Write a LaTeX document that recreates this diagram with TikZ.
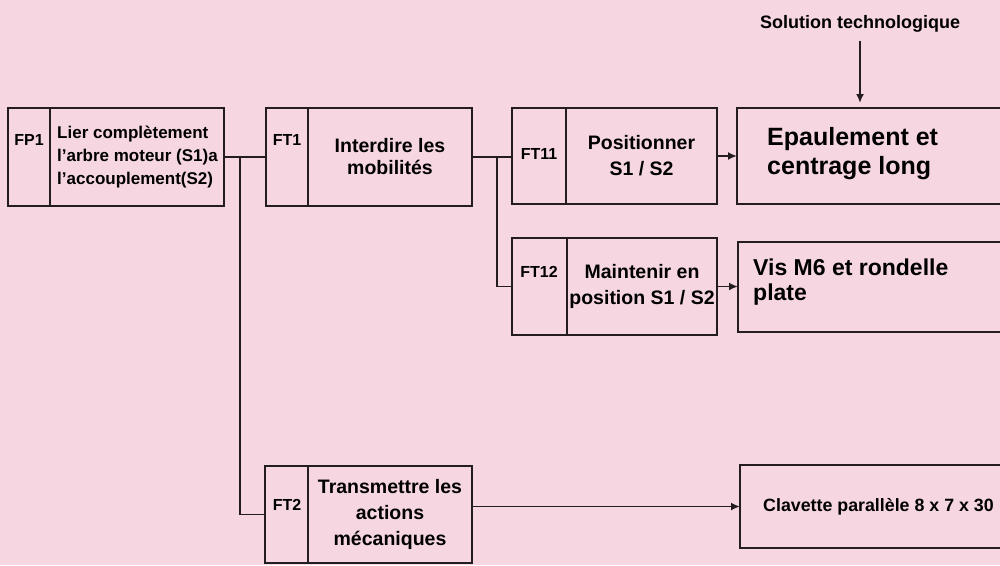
\documentclass[tikz,border=0pt]{standalone}
\usepackage{fontspec}
\setmainfont{Liberation Sans}
\usetikzlibrary{arrows.meta,positioning,calc}
\definecolor{Rose}{HTML}{F6D6E1}
\definecolor{Ink}{HTML}{231C20}
\newcommand{\fsz}[2]{\fontsize{#1}{#2}\selectfont}
\tikzset{
  >=Latex,
  cell/.style={draw=Ink,line width=1.8pt,inner sep=0pt,outer sep=0pt},
  idcell/.style={cell,anchor=north west},
  fcell/.style={cell,align=center,font=\bfseries\fsz{19.5}{26}},
  soln/.style={cell,anchor=north west,minimum width=320pt},
  idlab/.style={font=\bfseries\fsz{16}{18},inner sep=0pt},
  txt/.style={anchor=west,align=left,inner sep=0pt,font=\bfseries},
  link/.style={draw=Ink,line width=1.8pt},
  arr/.style={link,-{Latex[length=9pt,width=8pt]}}
}
\begin{document}
\begin{tikzpicture}[x=1pt,y=-1pt]
  \fill[Rose] (0,0) rectangle (1000,565);
  \useasboundingbox (0,0) rectangle (1000,565);
  \clip (0,0) rectangle (1000,565);
  % fonction principale
  \node[idcell,minimum width=42pt,minimum height=98pt] (fp1id) at (8,108) {};
  \node[cell,minimum width=174pt,minimum height=98pt,right=0pt of fp1id] (fp1) {};
  \node[idlab] (fp1lab) at (29,140) {FP1};
  \node[txt,font=\bfseries\fsz{17}{23}] (fp1txt) at (57,157) {Lier complètement\\l'arbre moteur (S1)a\\l'accouplement(S2)};
  % fonctions techniques
  \node[idcell,minimum width=42pt,minimum height=98pt] (ft1id) at (266,108) {};
  \node[fcell,minimum width=164pt,minimum height=98pt,right=0pt of ft1id,font=\bfseries\fsz{19.5}{22}] (ft1) {Interdire les\\mobilités};
  \node[idlab] (ft1lab) at (287,140) {FT1};
  \node[idcell,minimum width=54pt,minimum height=96pt] (ft11id) at (512,108) {};
  \node[fcell,minimum width=151pt,minimum height=96pt,right=0pt of ft11id] (ft11) {Positionner\\S1 / S2};
  \node[idlab] (ft11lab) at (539,154) {FT11};
  \node[idcell,minimum width=55pt,minimum height=97pt] (ft12id) at (512,238) {};
  \node[fcell,minimum width=150pt,minimum height=97pt,right=0pt of ft12id] (ft12) {Maintenir en\\position S1 / S2};
  \node[idlab] (ft12lab) at (539,272) {FT12};
  \node[idcell,minimum width=43pt,minimum height=97pt] (ft2id) at (265,466) {};
  \node[fcell,minimum width=164pt,minimum height=97pt,right=0pt of ft2id] (ft2) {Transmettre les\\actions\\mécaniques};
  \node[idlab] (ft2lab) at (287,505) {FT2};
  % solutions
  \node[soln,minimum height=96pt] (epaul) at (737,108) {};
  \node[txt,font=\bfseries\fsz{25}{29}] (epaultxt) at (767,154) {Epaulement et\\centrage long};
  \node[soln,minimum height=90pt] (vis) at (738,242) {};
  \node[txt,font=\bfseries\fsz{23}{25}] (vistxt) at (753,282) {Vis M6 et rondelle\\plate};
  \node[soln,minimum height=83pt] (clav) at (740,465) {};
  \node[txt,font=\bfseries\fsz{17.8}{20}] (clavtxt) at (763,507) {Clavette parallèle 8 x 7 x 30};
  \node[font=\bfseries\fsz{18}{20},inner sep=0pt] (soltech) at (860,24) {Solution technologique};
  % liaisons
  \coordinate (j1) at ($(fp1.east)!0.38!(ft1id.west)$);
  \coordinate (j2) at ($(ft1.east)!0.62!(ft11id.west)$);
  \draw[link] (fp1.east) -- (fp1.east -| ft1id.west);
  \draw[link] (j1) |- (ft2id.west);
  \draw[link] (ft1.east) -- (ft1.east -| ft11id.west);
  \draw[link] (j2) |- (ft12id.west);
  \draw[arr] (ft11.east) -- (ft11.east -| epaul.west);
  \draw[arr] (ft12.east) -- (ft12.east -| vis.west);
  \draw[arr] (ft2.east |- clav.west) -- (clav.west);
  \draw[arr] ([yshift=-8pt]soltech.south) -- ([yshift=5pt]soltech.south |- epaul.north);
\end{tikzpicture}
\end{document}
